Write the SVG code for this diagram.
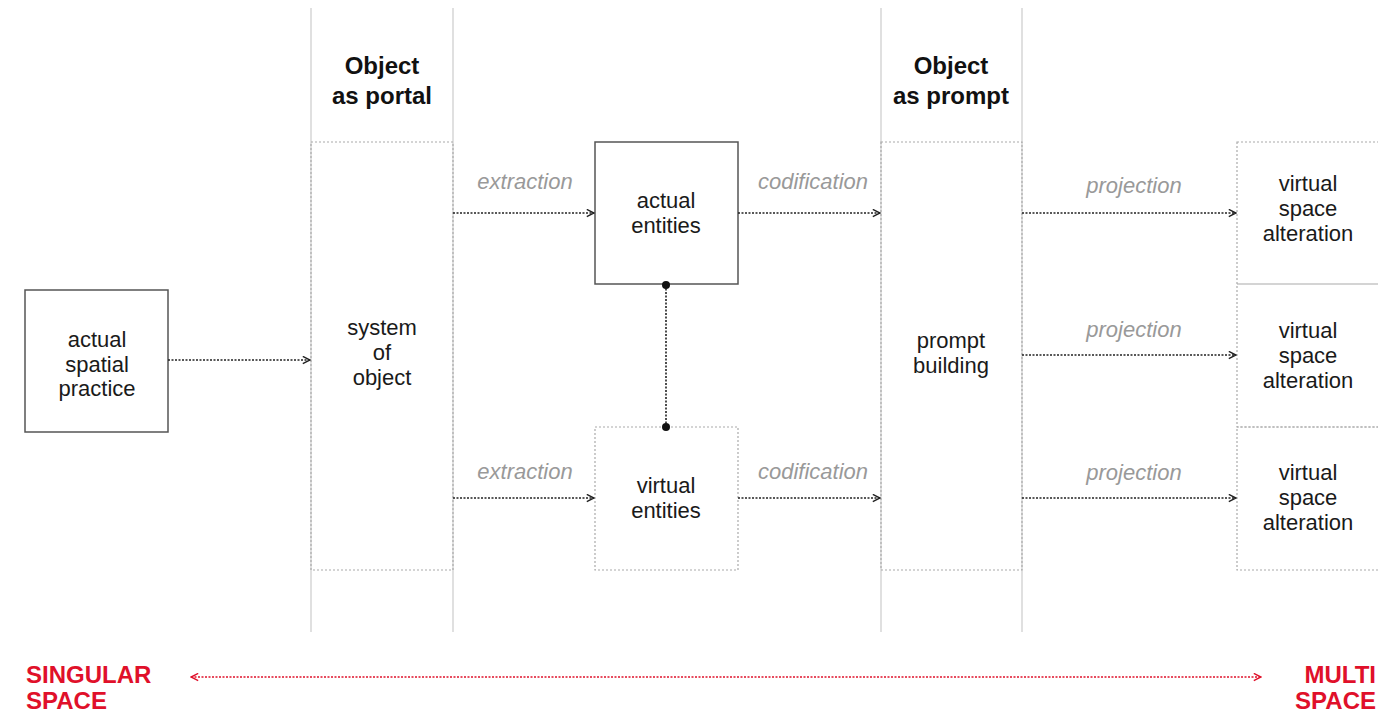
<svg xmlns="http://www.w3.org/2000/svg" width="1378" height="721" viewBox="0 0 1378 721">
<defs>
<marker id="ah" viewBox="0 0 10 10" refX="9" refY="5" markerWidth="9" markerHeight="9" markerUnits="userSpaceOnUse" orient="auto-start-reverse">
<path d="M1,1 L9,5 L1,9" fill="none" stroke="#222" stroke-width="1.6"/>
</marker>
<marker id="ahr" viewBox="0 0 10 10" refX="9" refY="5" markerWidth="9" markerHeight="9" markerUnits="userSpaceOnUse" orient="auto-start-reverse">
<path d="M1,1 L9,5 L1,9" fill="none" stroke="#e0102a" stroke-width="1.6"/>
</marker>
<style>
.t{font-family:"Liberation Sans",Arial,sans-serif;font-size:22px;fill:#1a1a1a;text-anchor:middle}
.h{font-family:"Liberation Sans",Arial,sans-serif;font-size:24px;font-weight:bold;fill:#111;text-anchor:middle}
.l{font-family:"Liberation Sans",Arial,sans-serif;font-size:22px;font-style:italic;fill:#999;text-anchor:middle}
.r{font-family:"Liberation Sans",Arial,sans-serif;font-size:24px;font-weight:bold;fill:#e0102a}
.solid{fill:#fff;stroke:#555;stroke-width:1.5}
.dot{fill:none;stroke:#aaa;stroke-width:1.2;stroke-dasharray:2 2}
.col{stroke:#ccc;stroke-width:1.2}
.arr{stroke:#222;stroke-width:1.6;stroke-dasharray:2 1.5;fill:none}
</style>
</defs>
<rect width="1378" height="721" fill="#fff"/>
<g id="columns">
<line class="col" x1="311" y1="8" x2="311" y2="632"/>
<line class="col" x1="453" y1="8" x2="453" y2="632"/>
<line class="col" x1="881" y1="8" x2="881" y2="632"/>
<line class="col" x1="1022" y1="8" x2="1022" y2="632"/>
</g>
<g id="title-portal"><text class="h" x="382" y="74">Object</text><text class="h" x="382" y="104">as portal</text></g>
<g id="title-prompt"><text class="h" x="951" y="74">Object</text><text class="h" x="951" y="104">as prompt</text></g>
<g id="n-practice"><rect class="solid" x="25" y="290" width="143" height="142"/>
<text class="t" x="97" y="347">actual</text><text class="t" x="97" y="372">spatial</text><text class="t" x="97" y="396">practice</text></g>
<g id="n-system"><rect class="dot" x="311" y="142" width="142" height="428"/>
<text class="t" x="382" y="335">system</text><text class="t" x="382" y="360">of</text><text class="t" x="382" y="385">object</text></g>
<g id="n-actual"><rect class="solid" x="595" y="142" width="143" height="142"/>
<text class="t" x="666" y="208">actual</text><text class="t" x="666" y="233">entities</text></g>
<g id="n-virtual"><rect class="dot" x="595" y="427" width="143" height="143"/>
<text class="t" x="666" y="493">virtual</text><text class="t" x="666" y="518">entities</text></g>
<g id="n-prompt"><rect class="dot" x="881" y="142" width="141" height="428"/>
<text class="t" x="951" y="348">prompt</text><text class="t" x="951" y="373">building</text></g>
<g id="n-alt1"><rect class="dot" x="1237" y="142" width="145" height="142"/>
<text class="t" x="1308" y="191">virtual</text><text class="t" x="1308" y="216">space</text><text class="t" x="1308" y="241">alteration</text></g>
<g id="n-alt2"><rect class="dot" x="1237" y="284" width="145" height="143"/>
<text class="t" x="1308" y="338">virtual</text><text class="t" x="1308" y="363">space</text><text class="t" x="1308" y="388">alteration</text></g>
<g id="n-alt3"><rect class="dot" x="1237" y="427" width="145" height="143"/>
<text class="t" x="1308" y="480">virtual</text><text class="t" x="1308" y="505">space</text><text class="t" x="1308" y="530">alteration</text></g>
<g id="connectors">
<line class="arr" x1="168" y1="360" x2="310" y2="360" marker-end="url(#ah)"/>
<line class="arr" x1="453" y1="213" x2="594" y2="213" marker-end="url(#ah)"/>
<line class="arr" x1="453" y1="498" x2="594" y2="498" marker-end="url(#ah)"/>
<line class="arr" x1="738" y1="213" x2="880" y2="213" marker-end="url(#ah)"/>
<line class="arr" x1="738" y1="498" x2="880" y2="498" marker-end="url(#ah)"/>
<line class="arr" x1="1022" y1="213" x2="1236" y2="213" marker-end="url(#ah)"/>
<line class="arr" x1="1022" y1="355" x2="1236" y2="355" marker-end="url(#ah)"/>
<line class="arr" x1="1022" y1="498" x2="1236" y2="498" marker-end="url(#ah)"/>
<line class="arr" x1="666" y1="285" x2="666" y2="427"/>
<circle cx="666" cy="285" r="4" fill="#111"/>
<circle cx="666" cy="427" r="4" fill="#111"/>
<text class="l" x="525" y="189">extraction</text>
<text class="l" x="525" y="479">extraction</text>
<text class="l" x="813" y="189">codification</text>
<text class="l" x="813" y="479">codification</text>
<text class="l" x="1134" y="193">projection</text>
<text class="l" x="1134" y="337">projection</text>
<text class="l" x="1134" y="480">projection</text>
<line x1="191" y1="677" x2="1261" y2="677" stroke="#e0102a" stroke-width="1.6" stroke-dasharray="2 1.5" marker-start="url(#ahr)" marker-end="url(#ahr)"/>
</g>
<g id="scale-labels">
<text class="r" x="26" y="683">SINGULAR</text><text class="r" x="26" y="709">SPACE</text>
<text class="r" x="1376" y="683" text-anchor="end">MULTI</text><text class="r" x="1376" y="709" text-anchor="end">SPACE</text>
</g>
</svg>
